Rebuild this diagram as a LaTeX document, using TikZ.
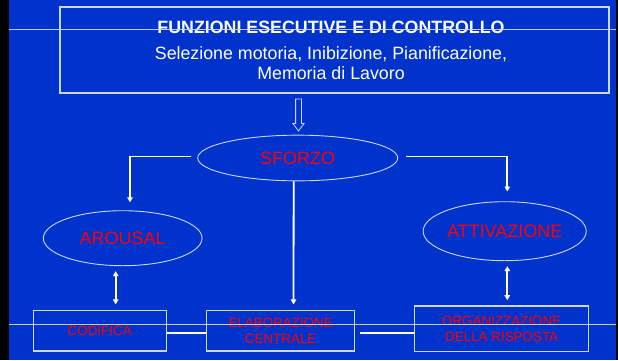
\documentclass[tikz,border=0pt]{standalone}
\usepackage{fontspec}
\setmainfont{Liberation Sans}
\usetikzlibrary{shapes.geometric,shapes.arrows,arrows.meta}
\definecolor{fondo}{RGB}{0,51,204}
\definecolor{rosso}{RGB}{255,0,0}
\colorlet{bordo}{white!80!fondo}

\begin{document}
\begin{tikzpicture}[x=1pt,y=-1pt,
	ovale/.style={ellipse,draw=bordo,line width=0.9pt,inner sep=0pt,text=rosso,font=\fontsize{18}{20}\selectfont},
	riquadro/.style={rectangle,draw=bordo,line width=1.1pt,inner sep=0pt,text=rosso,align=center,font=\fontsize{13.4}{16.5}\selectfont},
	freccia/.style={white,line width=1.8pt,-{Triangle[width=5.5pt,length=5pt]}},
	doppia/.style={white,line width=1.8pt,{Triangle[width=5.5pt,length=5pt]}-{Triangle[width=5.5pt,length=5pt]}},
	linea/.style={white,line width=2pt},
	riga/.style={white!75!fondo,line width=0.9pt}]
	\useasboundingbox (0,0) rectangle (618,360);
		\fill[black] (0,0) rectangle (618,360);
		\fill[fondo] (9,0) rectangle (616,360);
	\node[rectangle,draw=bordo,line width=1.1pt,minimum width=549pt,minimum height=86pt] (funzioni) at (334.5,50) {};
	\node[white,align=center,inner sep=0pt,font=\fontsize{17.8}{20}\selectfont] (testo) at (331,50.4) {\textbf{FUNZIONI ESECUTIVE E DI CONTROLLO}\\[5.3pt]Selezione motoria, Inibizione, Pianificazione,\\Memoria di Lavoro};
	\node[single arrow,draw=bordo,fill=fondo,line width=0.8pt,rotate=-90,inner sep=2.5pt,minimum height=32pt,single arrow head extend=2.75pt,single arrow tip angle=74] (verso) at (298.5,113) {};
		\node[ovale,minimum width=200pt,minimum height=45.7pt] (sforzo) at (297.7,158) {SFORZO};
		\node[ovale,minimum width=158.7pt,minimum height=55pt] (arousal) at (122.7,238.2) {AROUSAL};
		\node[ovale,minimum width=158.7pt,minimum height=59pt] (attivazione) at (504.7,231.2) {ATTIVAZIONE};
	\node[riquadro,minimum width=132.7pt,minimum height=40.3pt] (codifica) at (99.7,330.8) {CODIFICA};
	\node[riquadro,minimum width=148pt,minimum height=40.3pt] (elaborazione) at (280.7,330.8) {ELABORAZIONE\\CENTRALE};
	\node[riquadro,minimum width=174pt,minimum height=45.7pt] (organizzazione) at (501.7,328.8) {ORGANIZZAZIONE\\DELLA RISPOSTA};
		\draw[freccia] ([xshift=-6pt,yshift=1.5pt]sforzo.west) -| ([xshift=7.3pt,yshift=8pt]arousal.north);
		\draw[freccia] ([xshift=8.3pt,yshift=1.5pt]sforzo.east) -| ([xshift=2.6pt,yshift=9.7pt]attivazione.north);
		\draw[freccia] ([xshift=-4pt]sforzo.south) -- ([xshift=12.8pt,yshift=5.7pt]elaborazione.north);
	\draw[doppia] ([xshift=-7pt,yshift=-5pt]arousal.south) -- ([xshift=16pt,yshift=5.7pt]codifica.north);
	\draw[doppia] ([xshift=2.6pt,yshift=-5pt]attivazione.south) -- ([xshift=5.6pt,yshift=5.25pt]organizzazione.north);
		\draw[linea] ([yshift=-2pt]codifica.east) -- ([yshift=-2pt]elaborazione.west);
		\draw[linea] ([xshift=4.6pt,yshift=-2pt]elaborazione.east) -- ([yshift=-2pt]elaborazione.east -| organizzazione.west);
	\draw[riga] (9,29.3) -- (616,29.3);
	\draw[riga] (9,324) -- (616,324);
\end{tikzpicture}
\end{document}
